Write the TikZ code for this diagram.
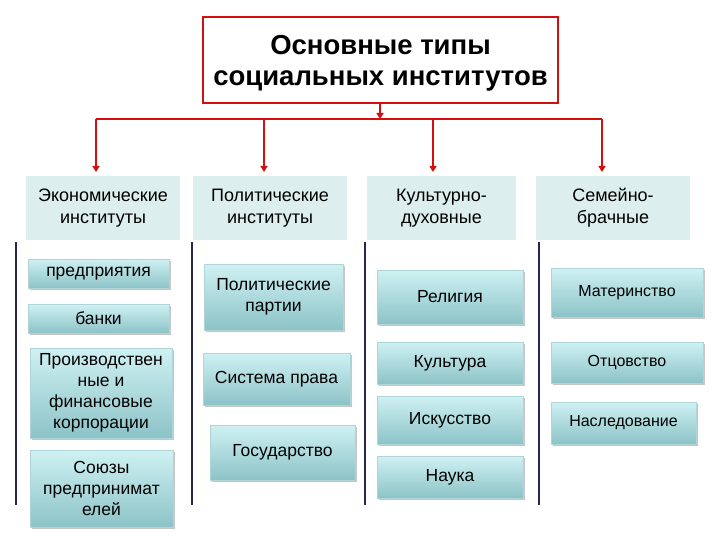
\documentclass[tikz,border=0pt]{standalone}
\usepackage{fontspec}
\setmainfont{Liberation Sans}
\usetikzlibrary{shadows,arrows.meta}
\definecolor{redline}{HTML}{D40F0F}
\definecolor{navy}{HTML}{262650}
\definecolor{headfill}{HTML}{DCEEEE}
\definecolor{itemtop}{HTML}{CFF1F3}
\definecolor{itembot}{HTML}{8CC3C7}
\tikzset{
  title/.style={draw=redline, line width=1.6pt, fill=white, inner sep=0pt},
  titletext/.style={align=center, inner sep=0pt,
    font=\fontsize{27.5}{31}\selectfont\bfseries},
  head/.style={fill=headfill, align=center, inner sep=0pt,
    font=\fontsize{18}{22}\selectfont},
  item/.style={top color=itemtop, bottom color=itembot, draw=itembot!70!white, line width=0.4pt,
    align=center, inner sep=0pt,
    drop shadow={opacity=0.45, shadow xshift=1.5pt, shadow yshift=-2pt},
    font=\fontsize{17.5}{21}\selectfont},
  smallitem/.style={item, font=\fontsize{16}{19}\selectfont},
  redarrow/.style={draw=redline, line width=2.2pt, -{Triangle[length=6pt,width=7pt]}},
  redline/.style={draw=redline, line width=2.2pt},
  sep/.style={draw=navy, line width=2.8pt},
}
\begin{document}
\begin{tikzpicture}[x=1pt,y=-1pt]
\useasboundingbox (0,0) rectangle (720,540);
% title
\node[title, minimum width=355pt, minimum height=86pt] (t) at (380.5,60) {};
\node[titletext] (tt) at (380.5,63) {Основные типы\\социальных институтов};
% headers
\node[head, minimum width=154pt, minimum height=64pt] (h1) at (103,208) {Экономические\\институты};
\node[head, minimum width=154pt, minimum height=64pt] (h2) at (270,208) {Политические\\институты};
\node[head, minimum width=149pt, minimum height=64pt] (h3) at (441.5,208) {Культурно-\\духовные};
\node[head, minimum width=154pt, minimum height=64pt] (h4) at (613,208) {Семейно-\\брачные};
% connectors
\coordinate (j) at (380,119);
\coordinate (l) at (96,119);
\coordinate (r) at (602,119);
\draw[redarrow] (t.south -| j) -- (j);
\draw[redline] (l) -- (r);
\draw[redarrow] (l) -- (96,172);
\draw[redarrow] (264,119) -- (264,172);
\draw[redarrow] (433,119) -- (433,172);
\draw[redarrow] (r) -- (602,172);
% separators
\coordinate (s1a) at (16,242);  \coordinate (s1b) at (16,505);
\coordinate (s2a) at (192,242); \coordinate (s2b) at (192,505);
\coordinate (s3a) at (365,242); \coordinate (s3b) at (365,505);
\coordinate (s4a) at (539,242); \coordinate (s4b) at (539,505);
\draw[sep] (s1a) -- (s1b);
\draw[sep] (s2a) -- (s2b);
\draw[sep] (s3a) -- (s3b);
\draw[sep] (s4a) -- (s4b);
% column 1
\node[item, minimum width=141pt, minimum height=29pt] (e1) at (98.5,273.5) {предприятия};
\node[item, minimum width=141pt, minimum height=29pt] (e2) at (98.5,318.5) {банки};
\node[item, minimum width=142pt, minimum height=90pt] (e3) at (101,393) {Производствен\\ные и\\финансовые\\корпорации};
\node[item, minimum width=143pt, minimum height=77pt] (e4) at (101.5,488.5) {Союзы\\предпринимат\\елей};
% column 2
\node[item, minimum width=139pt, minimum height=66pt] (p1) at (273.5,297) {Политические\\партии};
\node[item, minimum width=147pt, minimum height=52pt] (p2) at (276.5,379) {Система права};
\node[item, minimum width=145pt, minimum height=55pt] (p3) at (282.5,452.5) {Государство};
% column 3
\node[item, minimum width=146pt, minimum height=54pt] (c1) at (450,297) {Религия};
\node[item, minimum width=146pt, minimum height=42pt] (c2) at (450,363) {Культура};
\node[item, minimum width=146pt, minimum height=48pt] (c3) at (450,420) {Искусство};
\node[item, minimum width=146pt, minimum height=42pt] (c4) at (450,477) {Наука};
% column 4
\node[smallitem, minimum width=152pt, minimum height=49pt] (f1) at (627,292.5) {Материнство};
\node[smallitem, minimum width=152pt, minimum height=41pt] (f2) at (627,362.5) {Отцовство};
\node[smallitem, minimum width=145pt, minimum height=42pt] (f3) at (623.5,423) {Наследование};
\end{tikzpicture}
\end{document}
